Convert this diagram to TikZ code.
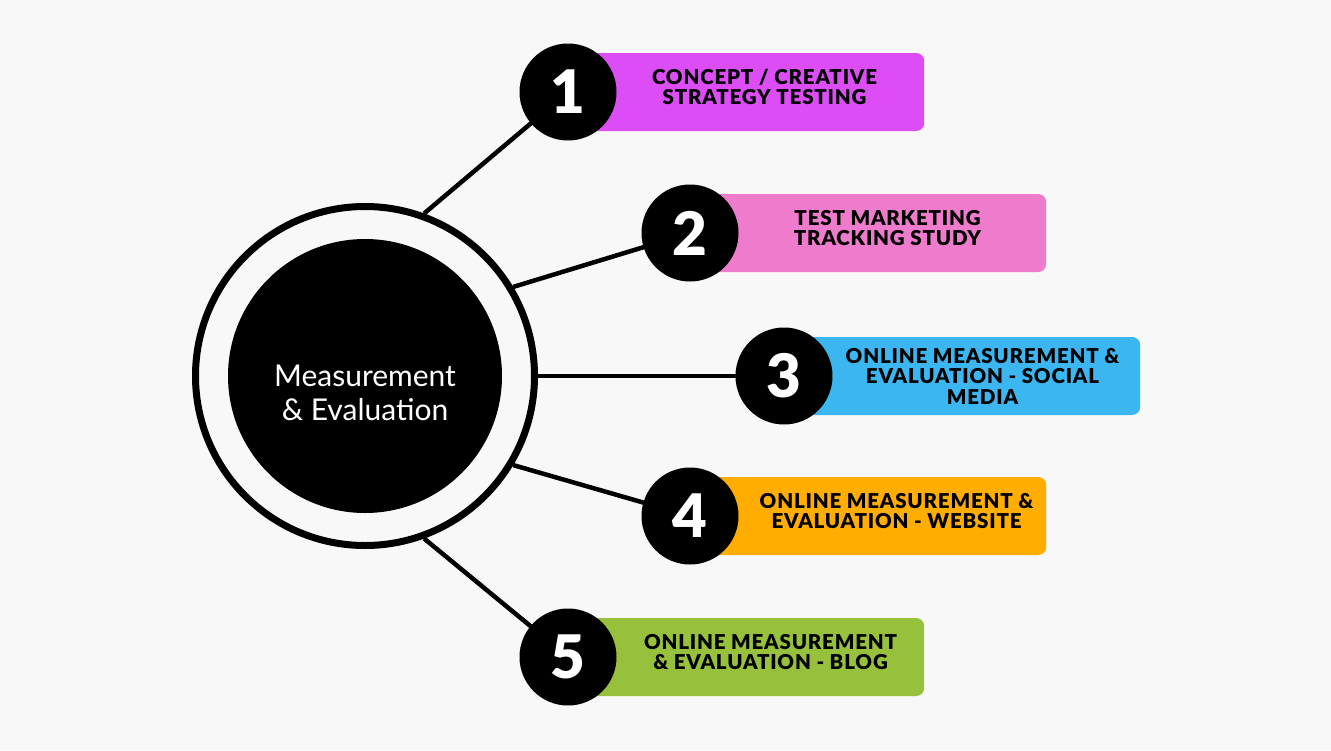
\documentclass[tikz,border=0pt]{standalone}
\usepackage{fontspec}
\setmainfont{Lato}
\newfontfamily\heavyfont{Lato Black}
\newfontfamily\barfont{Lato Black}[LetterSpace=4]
\usetikzlibrary{calc}
\definecolor{bgcol}{HTML}{F8F8F8}
\definecolor{boxone}{HTML}{DC4DF5}
\definecolor{boxtwo}{HTML}{EE7BCB}
\definecolor{boxthree}{HTML}{3BB6F1}
\definecolor{boxfour}{HTML}{FFAD00}
\definecolor{boxfive}{HTML}{97C13D}
\pgfdeclarelayer{back}
\pgfsetlayers{back,main}
\tikzset{
  numdot/.style={circle, fill=black, minimum size=97pt, inner sep=0pt, text=white, font=\fontsize{60}{60}\selectfont\heavyfont},
  bar/.style={rectangle, rounded corners=8pt, minimum width=356pt, minimum height=78pt, inner sep=0pt, anchor=west},
  barlabel/.style={align=center, inner sep=0pt, font=\fontsize{20.5}{20.5}\selectfont\barfont},
  spoke/.style={line width=4.5pt, black}
}

\begin{document}
\begin{tikzpicture}[x=1pt, y=-1pt]
			%%%%% START %%%%%
			
			\begin{pgfonlayer}{back}
			\fill[bgcol] (0, 0) rectangle (1331, 750);
			\end{pgfonlayer}
			
			\node[circle, draw, line width=7pt, minimum size=339pt, inner sep=0pt] (hub) at (365, 376) {};
			\node[circle, fill=black, minimum size=274pt, inner sep=0pt] (core) at (hub) {};
			\node[text=white, align=center, font=\fontsize{30}{34}\selectfont] (corelabel) at ($(core)+(0, 17)$) {Measurement\\\& Evaluation};
			
			\coordinate (p1) at (568, 92);
			\coordinate (p2) at (690, 233);
			\coordinate (p3) at (784, 376);
			\coordinate (p4) at (690, 516);
			\coordinate (p5) at (568, 657);
			
			\node[bar, fill=boxone] (b1) at (p1) {};
			\node[bar, fill=boxtwo] (b2) at (p2) {};
			\node[bar, fill=boxthree] (b3) at (p3) {};
			\node[bar, fill=boxfour] (b4) at (p4) {};
			\node[bar, fill=boxfive] (b5) at (p5) {};
			
			\begin{pgfonlayer}{back}
			\draw[spoke] (hub.70) -- (p1);
			\draw[spoke] (hub.31) -- (p2);
			\draw[spoke] (hub.0) -- (p3);
			\draw[spoke] (hub.-31) -- (p4);
			\draw[spoke] (hub.-70) -- (p5);
			\end{pgfonlayer}
			
			\node[numdot] (n1) at (p1) {1};
			\node[numdot] (n2) at (p2) {2};
			\node[numdot] (n3) at (p3) {3};
			\node[numdot] (n4) at (p4) {4};
			\node[numdot] (n5) at (p5) {5};
			
			\node[barlabel] (t1) at ($(n1.east)!0.5!(b1.east)+(-6, -5)$) {CONCEPT / CREATIVE\\STRATEGY TESTING};
			\node[barlabel] (t2) at ($(n2.east)!0.5!(b2.east)+(-5, -5)$) {TEST MARKETING\\TRACKING STUDY};
			\node[barlabel] (t3) at ($(n3.east)!0.5!(b3.east)+(-4, 0)$) {ONLINE MEASUREMENT \&\\EVALUATION - SOCIAL\\MEDIA};
			\node[barlabel] (t4) at ($(n4.east)!0.5!(b4.east)+(4, -5)$) {ONLINE MEASUREMENT \&\\EVALUATION - WEBSITE};
			\node[barlabel] (t5) at ($(n5.east)!0.5!(b5.east)+(0, -5)$) {ONLINE MEASUREMENT\\\& EVALUATION - BLOG};
			
			%%%%% END %%%%%
\end{tikzpicture}
\end{document}
